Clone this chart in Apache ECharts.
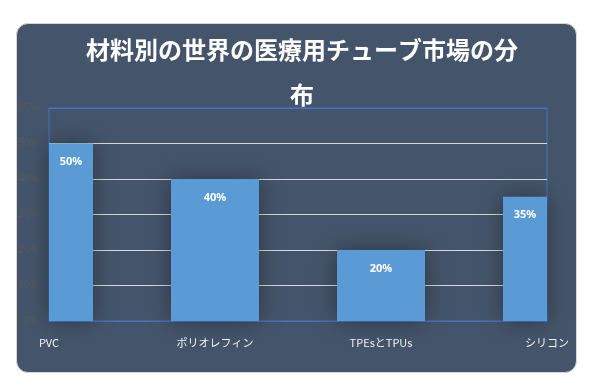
<!DOCTYPE html>
<html><head><meta charset="utf-8">
<script src="https://cdn.jsdelivr.net/npm/echarts@6/dist/echarts.min.js"></script>
<style>
html,body{margin:0;padding:0;background:#fff;width:605px;height:391px;overflow:hidden;}
#card{position:absolute;left:16px;top:23px;width:561px;height:350px;background:#44546A;border:1px solid #d6d6d6;border-radius:12px;box-sizing:border-box;}
#chart{position:absolute;left:0;top:0;width:605px;height:391px;}
</style></head>
<body>
<div id="card"></div>
<div id="chart"></div>
<script>
const titleText = '材料別の世界の医療用チューブ市場の分\n布';
const categories = ['PVC', 'ポリオレフィン', 'TPEsとTPUs', 'シリコン'];
const shares = [0.50, 0.40, 0.20, 0.35];
const yTicks = [0, 0.1, 0.2, 0.3, 0.4, 0.5, 0.6];

const chart = echarts.init(document.getElementById('chart'), null, {renderer: 'canvas'});
chart.setOption({
  backgroundColor: 'transparent',
  animation: false,
  title: {
    text: titleText,
    left: 297, top: 22, textAlign: 'center',
    textStyle: {color: '#ffffff', fontSize: 24, fontWeight: 'bold', lineHeight: 45,
      fontFamily: '"Noto Sans CJK JP", sans-serif', align: 'center'}
  },
  grid: {left: 49, right: 58, top: 108, bottom: 70, show: true, borderColor: '#4472C4', borderWidth: 1},
  xAxis: {
    type: 'category', data: categories, boundaryGap: false,
    axisLine: {show: false}, axisTick: {show: false},
    axisLabel: {color: '#f2f2f2', fontSize: 11, margin: 16, fontFamily: '"Noto Sans CJK JP", sans-serif'}
  },
  yAxis: {
    type: 'value', min: yTicks[0], max: yTicks[yTicks.length - 1], interval: 0.1,
    axisLine: {show: false}, axisTick: {show: false},
    axisLabel: {color: '#5a5a5a', fontSize: 10, margin: 11,
      formatter: v => Math.round(v * 100) + '%', fontFamily: '"Noto Sans", sans-serif'},
    splitLine: {lineStyle: {color: ['#4472C4','#D9D9D9','#D9D9D9','#D9D9D9','#D9D9D9','#D9D9D9','#4472C4'], width: 1}}
  },
  series: [{
    type: 'custom',
    data: shares.map((v, i) => [i, v]),
    encode: {x: 0, y: 1},
    renderItem: function (params, api) {
      const top = api.coord([api.value(0), api.value(1)]);
      const base = api.coord([api.value(0), 0]);
      const w = api.size([1, 0])[0] * 0.53;
      const cs = params.coordSys;
      const rect = echarts.graphic.clipRectByRect(
        {x: top[0] - w / 2, y: top[1], width: w, height: base[1] - top[1]},
        {x: cs.x, y: cs.y, width: cs.width, height: cs.height});
      if (!rect) return;
      return {
        type: 'rect', shape: rect,
        style: {fill: '#5B9BD5', shadowBlur: 22, shadowColor: 'rgba(0,0,0,0.35)'},
        textContent: {style: {text: Math.round(api.value(1) * 100) + '%', fill: '#ffffff',
          fontSize: 11, fontWeight: 'bold', fontFamily: '"Noto Sans", sans-serif'}},
        textConfig: {position: 'insideTop', distance: 13}
      };
    }
  }]
});
</script>
</body></html>
